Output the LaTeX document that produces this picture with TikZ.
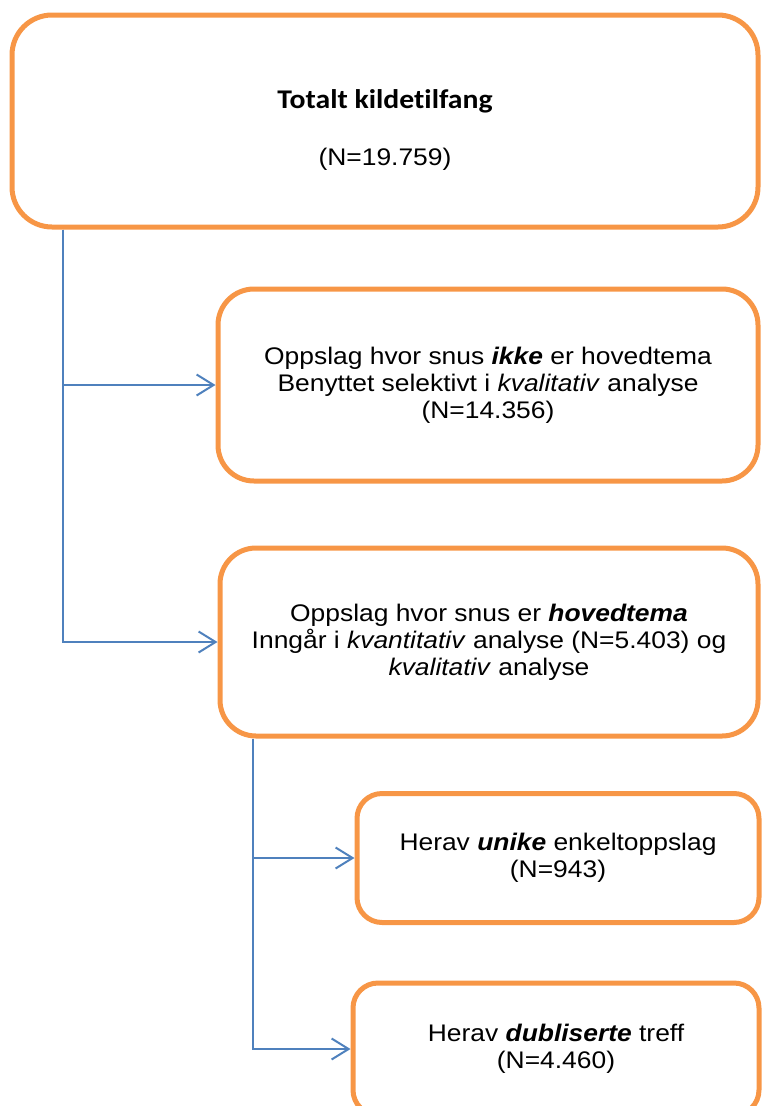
\documentclass[tikz,border=0pt]{standalone}
\usepackage{fontspec}
\setmainfont{Liberation Sans}[FakeStretch=1.1]
\newfontfamily\headfont{Carlito}[FakeStretch=1.1, Ligatures=NoCommon]
\usepackage{tikz}
\usetikzlibrary{arrows.meta, calc}
\definecolor{box-orange}{HTML}{F79646}
\definecolor{link-blue}{HTML}{4F81BD}

\begin{document}
\begin{tikzpicture}[x=1pt, y=-1pt,
    stage/.style={draw=box-orange, line width=5pt, rounded corners=#1, align=center,
        inner sep=0pt, font=\fontsize{24}{27}\selectfont},
    flow/.style={draw=link-blue, line width=2pt,
        -{Straight Barb[length=17pt, width=21pt]}}]
    \useasboundingbox (0,0) rectangle (761,1106);

    % Total source material
    \node[stage=40pt, minimum width=746pt, minimum height=212pt] (total) at (385,121)
        {{\headfont\bfseries\fontsize{27}{27}\selectfont\rule{0pt}{36pt}Totalt kildetilfang}\\[30pt] (N=19.759)};

    % First split
    \node[stage=36pt, minimum width=540pt, minimum height=192pt] (ikke) at (488,385)
        {Oppslag hvor snus \textbf{\textit{ikke}} er hovedtema\\
         Benyttet selektivt i \textit{kvalitativ} analyse\\
         (N=14.356)};
    \node[stage=36pt, minimum width=538pt, minimum height=188pt] (hoved) at (489,642)
        {Oppslag hvor snus er \textbf{\textit{hovedtema}}\\
         Inngår i \textit{kvantitativ} analyse (N=5.403) og\\
         \textit{kvalitativ} analyse};

    % Second split
    \node[stage=25pt, minimum width=402pt, minimum height=129pt] (unike) at (558,858)
        {Herav \textbf{\textit{unike}} enkeltoppslag\\
         (N=943)};
    \node[stage=25pt, minimum width=406pt, minimum height=132pt] (dubl) at (556,1049)
        {Herav \textbf{\textit{dubliserte}} treff\\
         (N=4.460)};

    % Connectors
    \draw[flow] ($(total.south west)+(53,0)$) |- (ikke.west);
    \draw[flow] ($(total.south west)+(53,0)$) |- (hoved.west);
    \draw[flow] ($(hoved.south west)+(35,0)$) |- (unike.west);
    \draw[flow] ($(hoved.south west)+(35,0)$) |- (dubl.west);
\end{tikzpicture}
\end{document}
